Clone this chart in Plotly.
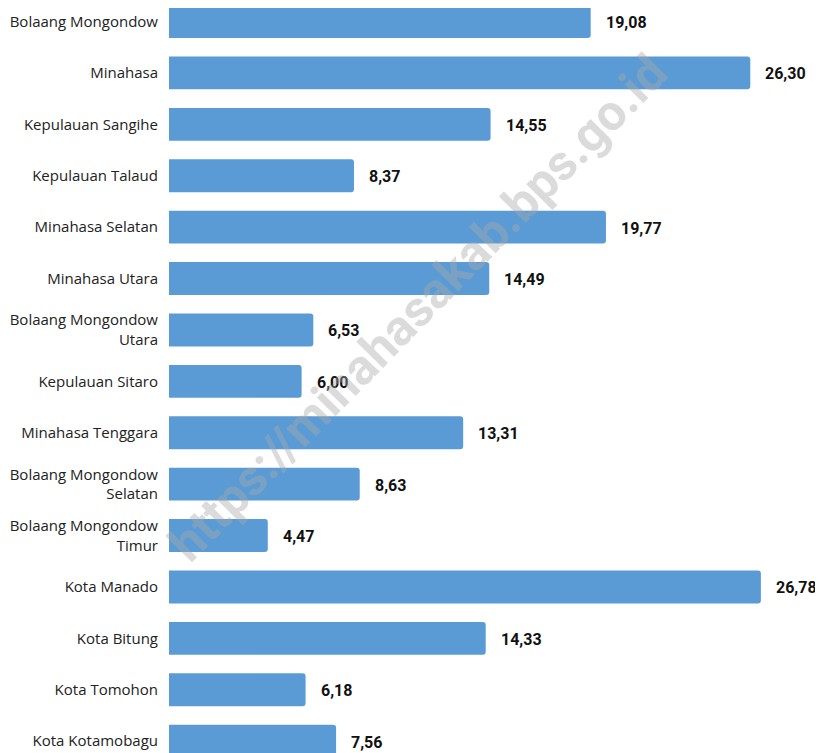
import plotly.graph_objects as go

categories = [
    "Bolaang Mongondow", "Minahasa", "Kepulauan Sangihe", "Kepulauan Talaud",
    "Minahasa Selatan", "Minahasa Utara", "Bolaang Mongondow<br>Utara",
    "Kepulauan Sitaro", "Minahasa Tenggara", "Bolaang Mongondow<br>Selatan",
    "Bolaang Mongondow<br>Timur", "Kota Manado", "Kota Bitung", "Kota Tomohon",
    "Kota Kotamobagu",
]
values = [19.08, 26.30, 14.55, 8.37, 19.77, 14.49, 6.53, 6.00, 13.31, 8.63,
          4.47, 26.78, 14.33, 6.18, 7.56]
value_labels = [f"{v:.2f}".replace(".", ",") for v in values]
watermark = "https://minahasakab.bps.go.id"

fig = go.Figure()
fig.add_trace(go.Bar(
    x=values, y=categories, orientation="h",
    marker=dict(color="#5B9BD5", cornerradius=3, line=dict(width=0)),
    width=0.64, hoverinfo="x+y",
))

for c, v, t in zip(categories, values, value_labels):
    fig.add_annotation(x=v, y=c, text=t, showarrow=False, xanchor="left",
                       xshift=13, yshift=-1,
                       font=dict(family="Roboto", size=16, color="#111111", weight="bold"))

fig.add_annotation(xref="paper", yref="paper", x=0.381, y=0.597, text=watermark,
                   showarrow=False, textangle=-45.5,
                   font=dict(family="Roboto", size=50, color="rgba(170,170,170,0.42)", weight="bold"))

fig.update_layout(
    width=815, height=745,
    margin=dict(l=161, r=0, t=0, b=0),
    paper_bgcolor="white", plot_bgcolor="white",
    showlegend=False,
    xaxis=dict(range=[0, 29.59], visible=False, showgrid=False, zeroline=False),
    yaxis=dict(type="category", categoryorder="array", categoryarray=categories,
               range=[14.23, -0.263], showgrid=False, zeroline=False, showline=False,
               ticks="", ticklabelstandoff=10,
               tickfont=dict(family="Open Sans", size=15, color="#222222")),
)

fig.write_html("out.html")
